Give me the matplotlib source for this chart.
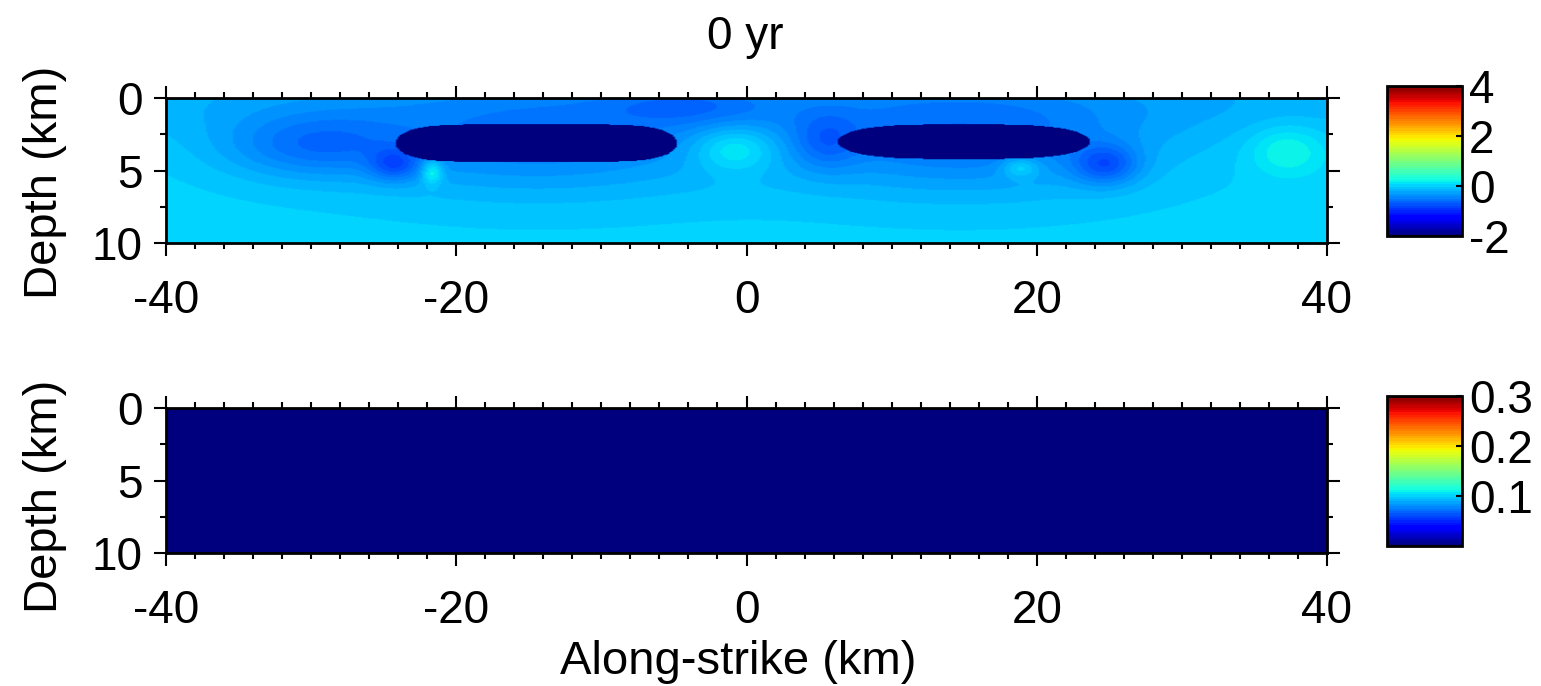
import numpy as np
import matplotlib
matplotlib.use("Agg")
import matplotlib.pyplot as plt
from matplotlib.ticker import MultipleLocator

plt.rcParams["font.family"] = ["Liberation Sans", "DejaVu Sans"]
plt.rcParams["axes.unicode_minus"] = False

# ---- labels and limits ----
title_text = "0 yr"
xlabel_text = "Along-strike (km)"
ylabel_text = "Depth (km)"
x_limits = [-40, 40]
z_limits = [0, 10]
x_major_ticks = [-40, -20, 0, 20, 40]
z_major_ticks = [0, 5, 10]
stress_limits = [-2, 4]
stress_ticks = [-2, 0, 2, 4]
slip_limits = [0, 0.3]
slip_ticks = [0.1, 0.2, 0.3]

# ---- fault-plane grid (km) ----
x_km = np.linspace(-40, 40, 641)
z_km = np.linspace(0, 10, 161)

# ---- shear stress change (MPa) ----
background_stress = 0.0

# locked asperities (stress drop inside)
patch_xmin = [-24.2, 6.3]
patch_xmax = [-4.8, 23.7]
patch_ztop = [1.8, 1.8]
patch_zbot = [4.4, 4.2]
patch_shape = [6, 3.5]
patch_stress = [-4.0, -4.0]

# stress-change lobes around the asperities
lobe_x = [-14.5, 15.0, -30.0, -0.8, 37.3, -24.3, -21.7, 24.8, 18.9, 5.5, 0.0, -4.0]
lobe_z = [3.1, 3.0, 3.3, 3.5, 3.6, 4.6, 5.1, 4.6, 4.8, 3.0, 0.0, 0.5]
lobe_sx = [9.5, 9.0, 4.5, 2.0, 1.8, 1.2, 0.5, 1.6, 0.9, 1.6, 60.0, 4.0]
lobe_sz = [2.6, 2.6, 1.6, 1.1, 1.2, 0.8, 0.6, 1.0, 0.5, 1.4, 2.0, 1.0]
lobe_amp = [-0.45, -0.50, -0.45, 0.42, 0.30, -0.45, 0.5, -0.55, 0.35, -0.3, -0.22, -0.25]

# ---- slip rate (m/yr): no slip at 0 yr ----
slip_rate_value = 0.0

X, Z = np.meshgrid(x_km, z_km)
stress = np.full(X.shape, background_stress)
for x0, z0, sx, sz, amp in zip(lobe_x, lobe_z, lobe_sx, lobe_sz, lobe_amp):
    stress += amp * np.exp(-0.5 * (((X - x0) / sx) ** 2 + ((Z - z0) / sz) ** 2))
for xa, xb, zt, zb, p, s in zip(patch_xmin, patch_xmax, patch_ztop, patch_zbot,
                                 patch_shape, patch_stress):
    xc, a = (xa + xb) / 2, (xb - xa) / 2
    zc, b = (zt + zb) / 2, (zb - zt) / 2
    inside = np.abs((X - xc) / a) ** p + ((Z - zc) / b) ** 2 <= 1
    stress[inside] = s

slip_rate = np.full(X.shape, slip_rate_value)

# ---- figure ----
W, H = 1541, 686
fig = plt.figure(figsize=(W / 100, H / 100), dpi=100)
cmap = plt.get_cmap("jet", 64)

ax_w = (1327 - 166) / W
ax_h = (243 - 98) / H
ax1 = fig.add_axes([166 / W, 1 - 243 / H, ax_w, ax_h])
ax2 = fig.add_axes([166 / W, 1 - 553 / H, ax_w, ax_h])
cb_w = (1462 - 1387) / W
cb_h = (236 - 86) / H
cax1 = fig.add_axes([1387 / W, 1 - 236 / H, cb_w, cb_h])
cax2 = fig.add_axes([1387 / W, 1 - 546 / H, cb_w, cb_h])

extent = [x_limits[0], x_limits[1], z_limits[1], z_limits[0]]
im1 = ax1.imshow(stress, cmap=cmap, vmin=stress_limits[0], vmax=stress_limits[1],
                 extent=extent, origin="upper", aspect="auto", interpolation="bilinear")
im2 = ax2.imshow(slip_rate, cmap=cmap, vmin=slip_limits[0], vmax=slip_limits[1],
                 extent=extent, origin="upper", aspect="auto", interpolation="bilinear")

for ax in (ax1, ax2):
    ax.set_xlim(x_limits)
    ax.set_ylim(z_limits[1], z_limits[0])
    ax.set_xticks(x_major_ticks)
    ax.set_yticks(z_major_ticks)
    ax.xaxis.set_minor_locator(MultipleLocator(2))
    ax.yaxis.set_minor_locator(MultipleLocator(2.5))
    ax.tick_params(which="both", direction="out", top=True, right=True,
                   width=1.5, labelsize=33)
    ax.tick_params(which="major", length=9)
    ax.tick_params(which="minor", length=4.5)
    ax.tick_params(axis="x", pad=17)
    ax.tick_params(axis="y", pad=8)
    for sp in ax.spines.values():
        sp.set_linewidth(2)

for cax, im, ticks in ((cax1, im1, stress_ticks), (cax2, im2, slip_ticks)):
    cb = fig.colorbar(im, cax=cax, ticks=ticks)
    cb.outline.set_linewidth(2)
    cax.tick_params(direction="in", length=4, width=1.5, labelsize=33, pad=5)

fig.text(745 / W, 1 - 37 / H, title_text, ha="center", va="center", fontsize=33)
fig.text(45 / W, 1 - 182 / H, ylabel_text, rotation=90, ha="center", va="center", fontsize=34)
fig.text(45 / W, 1 - 496 / H, ylabel_text, rotation=90, ha="center", va="center", fontsize=34)
fig.text(738 / W, 1 - 674 / H, xlabel_text, ha="center", va="baseline", fontsize=34)

fig.savefig("out.png", dpi=100)
